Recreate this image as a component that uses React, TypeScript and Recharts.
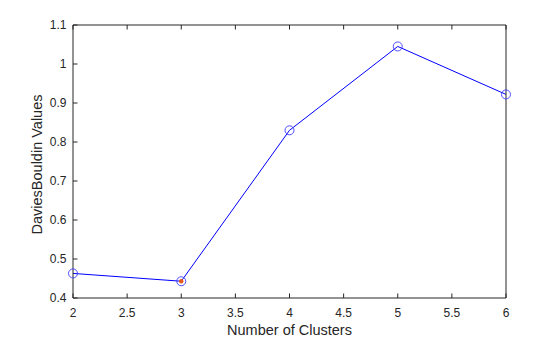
import { LineChart, Line, XAxis, YAxis } from "recharts";

const clusters = [2, 3, 4, 5, 6];
const dbValues = [0.463, 0.443, 0.830, 1.045, 0.922];
const xTicks = [2, 2.5, 3, 3.5, 4, 4.5, 5, 5.5, 6];
const yTicks = [0.4, 0.5, 0.6, 0.7, 0.8, 0.9, 1, 1.1];
const bestK = 3;

const data = clusters.map((k, i) => ({ k, value: dbValues[i] }));

const axisColor = "#262626";
const font = "'Liberation Sans', Arial, Helvetica, sans-serif";
const TL = 4.5;

function Marker(props: any) {
  const { cx, cy, payload } = props;
  if (cx == null || cy == null) return null;
  return (
    <g>
      <circle cx={cx} cy={cy} r={4.5} fill="none" stroke="#3b3bff" strokeWidth={0.9} />
      {payload.k === bestK && <circle cx={cx} cy={cy} r={2.2} fill="#e8561a" />}
    </g>
  );
}

function BottomTick({ x, y, payload }: any) {
  return (
    <g>
      <line x1={x} y1={y} x2={x} y2={y - TL} stroke={axisColor} />
      <text x={x} y={y + 19} textAnchor="middle" fill={axisColor} fontSize={12} fontFamily={font}>
        {payload.value}
      </text>
    </g>
  );
}

function TopTick({ x, y }: any) {
  return <line x1={x} y1={y} x2={x} y2={y + TL} stroke={axisColor} />;
}

function LeftTick({ x, y, payload }: any) {
  return (
    <g>
      <line x1={x} y1={y} x2={x + TL} y2={y} stroke={axisColor} />
      <text x={x - 6.5} y={y + 4.3} textAnchor="end" fill={axisColor} fontSize={12} fontFamily={font}>
        {payload.value}
      </text>
    </g>
  );
}

function RightTick({ x, y }: any) {
  return <line x1={x} y1={y} x2={x - TL} y2={y} stroke={axisColor} />;
}

export default function App() {
  return (
    <div style={{ position: "absolute", left: 0, top: 0, width: 560, height: 337, background: "#fff" }}>
      <LineChart width={560} height={337} data={data} margin={{ top: 24, right: 53, left: 0, bottom: 0 }}>
        <XAxis
          dataKey="k"
          type="number"
          domain={[2, 6]}
          ticks={xTicks}
          height={39}
          tickSize={0}
          tickMargin={0}
          tickLine={false}
          stroke={axisColor}
          tick={<BottomTick />}
          label={{
            content: ({ viewBox }: any) => (
              <text x={viewBox.x + viewBox.width / 2} y={335} textAnchor="middle" fill={axisColor} fontSize={14.5} fontFamily={font}>
                Number of Clusters
              </text>
            ),
          }}
        />
        <XAxis
          xAxisId="top"
          orientation="top"
          dataKey="k"
          type="number"
          domain={[2, 6]}
          ticks={xTicks}
          height={1}
          tickSize={0}
          tickMargin={0}
          tickLine={false}
          tick={<TopTick />}
          stroke={axisColor}
        />
        <YAxis
          type="number"
          domain={[0.4, 1.1]}
          ticks={yTicks}
          width={73}
          tickSize={0}
          tickMargin={0}
          tickLine={false}
          stroke={axisColor}
          tick={<LeftTick />}
          label={{
            content: ({ viewBox }: any) => {
              const cy = viewBox.y + viewBox.height / 2 + 3;
              return (
                <text x={41.5} y={cy} transform={`rotate(-90 41.5 ${cy})`} textAnchor="middle" fill={axisColor} fontSize={14.5} fontFamily={font}>
                  DaviesBouldin Values
                </text>
              );
            },
          }}
        />
        <YAxis
          yAxisId="right"
          orientation="right"
          type="number"
          domain={[0.4, 1.1]}
          ticks={yTicks}
          width={1}
          tickSize={0}
          tickMargin={0}
          tickLine={false}
          tick={<RightTick />}
          stroke={axisColor}
        />
        <Line
          dataKey="value"
          stroke="#0000ff"
          strokeWidth={1}
          dot={<Marker />}
          activeDot={false}
          isAnimationActive={false}
        />
      </LineChart>
    </div>
  );
}
